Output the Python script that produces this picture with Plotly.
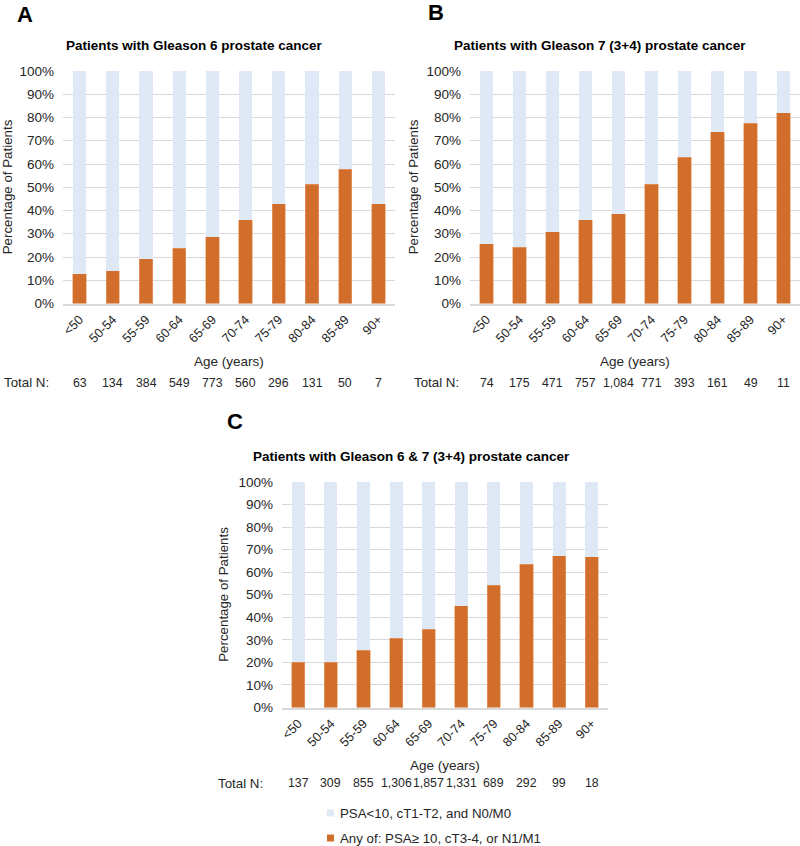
import plotly.graph_objects as go

W, H = 800, 846

ages = ["<50", "50-54", "55-59", "60-64", "65-69", "70-74", "75-79", "80-84", "85-89", "90+"]

# % with any of PSA>=10, cT3-4, or N1/M1
high_a = [12.8, 14.0, 19.2, 23.8, 28.8, 36.0, 43.0, 51.3, 57.8, 43.0]
high_b = [25.7, 24.3, 30.8, 36.0, 38.6, 51.3, 63.0, 73.8, 77.6, 82.0]
high_c = [20.0, 20.0, 25.3, 30.7, 34.6, 45.2, 54.3, 63.5, 67.4, 66.8]

n_a = ["63", "134", "384", "549", "773", "560", "296", "131", "50", "7"]
n_b = ["74", "175", "471", "757", "1,084", "771", "393", "161", "49", "11"]
n_c = ["137", "309", "855", "1,306", "1,857", "1,331", "689", "292", "99", "18"]

titles = ["Patients with Gleason 6 prostate cancer",
          "Patients with Gleason 7 (3+4) prostate cancer",
          "Patients with Gleason 6 & 7 (3+4) prostate cancer"]
letters = ["A", "B", "C"]
legend_low = "PSA<10, cT1-T2, and N0/M0"
legend_high = "Any of: PSA\u2265 10, cT3-4, or N1/M1"

ORANGE = "#D26E2B"
LIGHT = "#DEE9F5"
FONT = "Liberation Sans, Arial, sans-serif"
TXT = "#262626"

# panel pixel boxes: (x0, x1, ytop, ybottom)
boxes = [(63, 395, 71, 303.5), (470, 800, 71, 303.5), (282, 608, 482, 707.5)]
panels = [(high_a, n_a), (high_b, n_b), (high_c, n_c)]

def px(x):
    return x / W

def py(y):
    return 1 - y / H

fig = go.Figure()
annotations = []
for i, ((high, ns), box) in enumerate(zip(panels, boxes)):
    k = "" if i == 0 else str(i + 1)
    xa, ya = "x" + k, "y" + k
    low = [100 - v for v in high]
    fig.add_trace(go.Bar(x=ages, y=high, xaxis=xa, yaxis=ya, marker_color=ORANGE,
                         marker_line_width=0.6, marker_line_color="#E8A070",
                         name=legend_high, showlegend=False))
    fig.add_trace(go.Bar(x=ages, y=low, xaxis=xa, yaxis=ya, marker_color=LIGHT,
                         marker_line_width=0,
                         name=legend_low, showlegend=False))
    x0, x1, yt, yb = box
    fig.layout["xaxis" + k] = dict(domain=[px(x0), px(x1)], anchor=ya, tickangle=-45,
                                   tickfont=dict(size=12.7, color=TXT, family=FONT),
                                   ticklabelstandoff=2,
                                   showline=True, linecolor="#D9D9D9", linewidth=1.5,
                                   ticks="", showgrid=False, fixedrange=True,
                                   automargin=False)
    fig.layout["yaxis" + k] = dict(domain=[py(yb), py(yt)], anchor=xa, range=[0, 100],
                                   tickvals=list(range(0, 101, 10)),
                                   ticktext=[f"{v}%" for v in range(0, 101, 10)],
                                   tickfont=dict(size=13.5, color=TXT, family=FONT),
                                   ticklabelstandoff=8,
                                   showgrid=True, gridcolor="#D9D9D9", gridwidth=1,
                                   zeroline=False, showline=False, ticks="", ticklen=0,
                                   fixedrange=True, automargin=False)
    # y-axis title
    ytitle_x = [7, 413, 224][i]
    annotations.append(dict(text="Percentage of Patients", xref="paper", yref="paper",
                            x=px(ytitle_x), y=py((yt + yb) / 2), textangle=-90,
                            showarrow=False, font=dict(size=13.3, color=TXT, family=FONT),
                            xanchor="center", yanchor="middle"))
    # x-axis title
    xt_x, xt_y = [(229, 361), (635, 361), (445, 765)][i]
    annotations.append(dict(text="Age (years)", xref="paper", yref="paper",
                            x=px(xt_x), y=py(xt_y), showarrow=False,
                            font=dict(size=13.5, color=TXT, family=FONT),
                            xanchor="center", yanchor="middle"))
    # title
    tcenter = [194, 600, 411][i]
    ttop = [45, 45, 457][i]
    annotations.append(dict(text="<b>" + titles[i] + "</b>", xref="paper", yref="paper",
                            x=px(tcenter), y=py(ttop), showarrow=False,
                            font=dict(size=13.5, color="#000", family=FONT),
                            xanchor="center", yanchor="middle"))
    # panel letter
    lx, ly = [(25, 14), (436, 12), (235, 421)][i]
    annotations.append(dict(text="<b>" + letters[i] + "</b>", xref="paper", yref="paper",
                            x=px(lx), y=py(ly), showarrow=False,
                            font=dict(size=22, color="#000", family=FONT),
                            xanchor="center", yanchor="middle"))
    # Total N row
    nrow_y = [383, 383, 783][i]
    nlab_x = [2, 412, 216][i]
    annotations.append(dict(text="Total N:", xref="paper", yref="paper",
                            x=px(nlab_x), y=py(nrow_y), showarrow=False,
                            font=dict(size=13.3, color=TXT, family=FONT),
                            xanchor="left", yanchor="middle"))
    for a, n in zip(ages, ns):
        annotations.append(dict(text=n, xref=xa, yref="paper", x=a, y=py(nrow_y),
                                showarrow=False, font=dict(size=12.3, color=TXT, family=FONT),
                                xanchor="center", yanchor="middle"))

# legend (manual)
for yy, col, lab in [(813, LIGHT, legend_low), (838, ORANGE, legend_high)]:
    fig.add_shape(type="rect", xref="paper", yref="paper",
                  x0=px(327), x1=px(334), y0=py(yy + 3.5), y1=py(yy - 3.5),
                  fillcolor=col, line_width=0)
    annotations.append(dict(text=lab, xref="paper", yref="paper", x=px(338), y=py(yy),
                            showarrow=False, font=dict(size=13.3, color=TXT, family=FONT),
                            xanchor="left", yanchor="middle"))

fig.update_layout(width=W, height=H, margin=dict(l=0, r=0, t=0, b=0),
                  barmode="stack", bargap=0.6, paper_bgcolor="white", plot_bgcolor="white",
                  annotations=annotations, showlegend=False, font=dict(family=FONT))
fig.write_html("out.html", config={"displayModeBar": False},
               post_script="document.body.style.margin='0';document.body.style.overflow='hidden';")
